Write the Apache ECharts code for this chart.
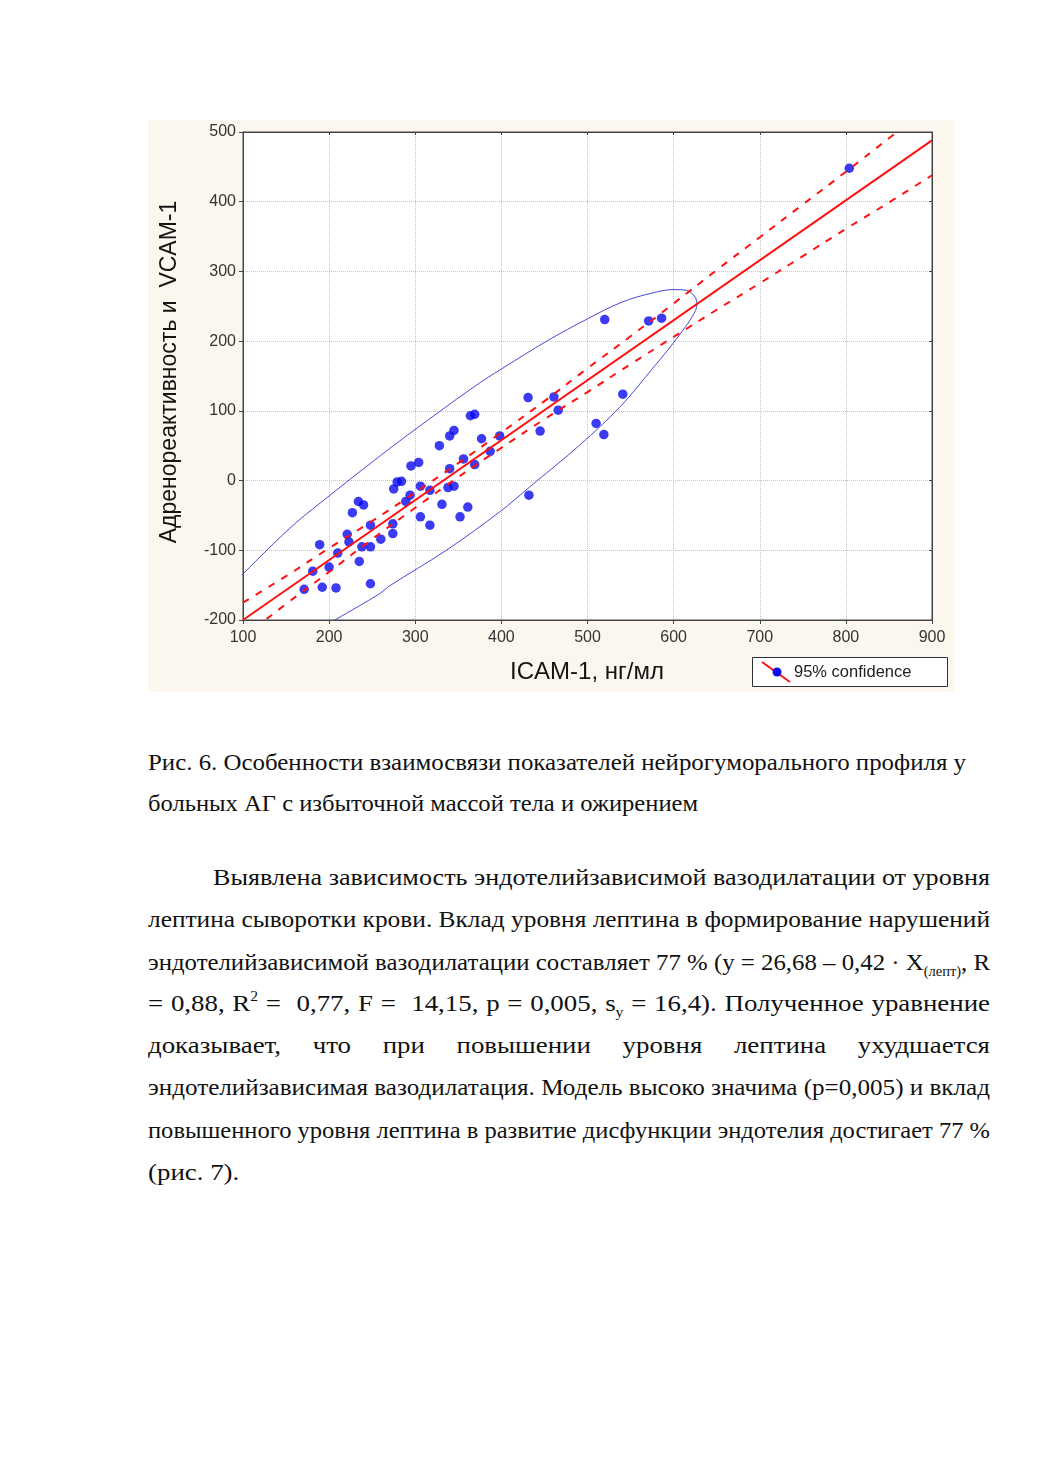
<!DOCTYPE html>
<html>
<head>
<meta charset="utf-8">
<script src="https://cdn.jsdelivr.net/npm/echarts@6/dist/echarts.min.js"></script>
<style>
  html, body { margin:0; padding:0; background:#fff; width:1041px; height:1472px; overflow:hidden; }
  #chart { position:absolute; left:148px; top:120px; width:807px; height:572px; background:#fbf7ee; }
  .ln { position:absolute; white-space:pre; display:inline-block; font-family:"Liberation Serif","Times New Roman",serif;
        font-size:24px; line-height:42px; height:42px; color:#111; transform-origin:0 50%; }
  .sub { font-size:14px; position:relative; top:6px; }
  .sup { font-size:14px; position:relative; top:-10px; }
</style>
</head>
<body>
<div id="chart"></div>

<div class="ln" data-w="818" data-mode="fit" style="left:148px;top:741px">Рис. 6. Особенности взаимосвязи показателей нейрогуморального профиля у</div>
<div class="ln" data-w="550" data-mode="fit" style="left:148px;top:782px">больных АГ с избыточной массой тела и ожирением</div>

<div class="ln" data-w="777" data-mode="just" style="left:213px;top:856px">Выявлена зависимость эндотелийзависимой вазодилатации от уровня</div>
<div class="ln" data-w="842" data-mode="just" style="left:148px;top:898px">лептина сыворотки крови. Вклад уровня лептина в формирование нарушений</div>
<div class="ln" data-w="842" data-mode="just" style="left:148px;top:941px">эндотелийзависимой вазодилатации составляет 77 % (у = 26,68 – 0,42 · X<span class="sub">(лепт)</span>, R</div>
<div class="ln" data-w="842" data-mode="just" style="left:148px;top:982px">= 0,88, R<span class="sup">2</span> =  0,77, F =  14,15, p = 0,005, s<span class="sub">y</span> = 16,4). Полученное уравнение</div>
<div class="ln" data-w="842" data-mode="just" style="left:148px;top:1024px">доказывает, что при повышении уровня лептина ухудшается</div>
<div class="ln" data-w="842" data-mode="just" style="left:148px;top:1066px">эндотелийзависимая вазодилатация. Модель высоко значима (p=0,005) и вклад</div>
<div class="ln" data-w="842" data-mode="just" style="left:148px;top:1109px">повышенного уровня лептина в развитие дисфункции эндотелия достигает 77 %</div>
<div class="ln" data-mode="plain" style="left:148px;top:1151px">(рис. 7).</div>

<script>
// ---- Data ----
const pointsX = [171,181,189,192,200,208,210,221,223,227,234,240,235,238,248,248,248,260,274,274,
                 275,279,284,294,289,295,304,306,306,317,317,328,331,340,345,340,338,345,352,361,
                 356,364,369,369,377,387,398,431,461,466,445,432,510,519,541,520,571,586,804];
const pointsY = [-156,-130,-92,-153,-124,-154,-104,-77,-88,-46,-30,-35,-116,-95,-95,-64,-148,-84,-62,-76,
                 -12,-2,-1,-21,-30,21,26,-52,-8,-14,-64,50,-34,64,72,17,-10,-8,-52,-38,
                 31,93,95,23,60,42,64,119,120,101,71,-21,82,66,124,231,229,233,448];

const fitX = [100, 900];
const fitY = [-200, 488];

const bandX     = [100,150,200,250,300,350,400,450,500,550,600,650,700,750,800,850,900];
const bandUpper = [-175,-137,-97,-58,-17,25,69,114,161,207,254,302,349,396,443,491,538];
const bandLower = [-225,-177,-131,-84,-39,5,47,88,127,167,206,245,283,322,361,399,438];

const ellipseX = [80,100,130,162,200,240,280,326,370,400,454,500,540,575,600,615,625,627,622,611,595,577,538,491,433,398,336,269,259,208,195];
const ellipseY = [-159,-134,-97,-60,-22,17,55,97,136,160,201,232,256,269,274,273,263,252,236,216,190,163,106,51,-9,-45,-100,-152,-162,-199,-208];

const xTicks = [100,200,300,400,500,600,700,800,900];
const yTicks = [-200,-100,0,100,200,300,400,500];

const yTitle = 'Адренореактивность и  VCAM-1';
const xTitle = 'ICAM-1, нг/мл';
const legendText = '95% confidence';

// ---- Chart ----
const zip = (a, b) => a.map((v, i) => [v, b[i]]);
const chart = echarts.init(document.getElementById('chart'), null, {renderer: 'canvas'});
const labelStyle = {color:'#333', fontFamily:'Liberation Sans, Arial, sans-serif', fontSize:16};
const axisColor = '#444';

chart.setOption({
  animation: false,
  backgroundColor: '#fbf7ee',
  grid: {left:95, top:12, width:689, height:488, show:true, backgroundColor:'#fff', borderColor:axisColor, borderWidth:1},
  xAxis: [
    {type:'value', min:xTicks[0], max:xTicks[xTicks.length-1], interval:100, position:'bottom',
     axisLine:{show:true, onZero:false, lineStyle:{color:axisColor}},
     axisTick:{show:true, length:4, lineStyle:{color:axisColor}},
     axisLabel:Object.assign({margin:10}, labelStyle),
     splitLine:{show:true, lineStyle:{color:'#c4c4c4', type:'dotted'}}},
    {type:'value', min:xTicks[0], max:xTicks[xTicks.length-1], interval:100, position:'top',
     axisLine:{show:true, onZero:false, lineStyle:{color:axisColor}},
     axisTick:{show:true, inside:true, length:3, lineStyle:{color:axisColor}},
     axisLabel:{show:false}, splitLine:{show:false}}
  ],
  yAxis: [
    {type:'value', min:yTicks[0], max:yTicks[yTicks.length-1], interval:100, position:'left',
     axisLine:{show:true, onZero:false, lineStyle:{color:axisColor}},
     axisTick:{show:true, length:4, lineStyle:{color:axisColor}},
     axisLabel:Object.assign({margin:7}, labelStyle),
     splitLine:{show:true, lineStyle:{color:'#c4c4c4', type:'dotted'}}},
    {type:'value', min:yTicks[0], max:yTicks[yTicks.length-1], interval:100, position:'right',
     axisLine:{show:true, onZero:false, lineStyle:{color:axisColor}},
     axisTick:{show:true, inside:true, length:3, lineStyle:{color:axisColor}},
     axisLabel:{show:false}, splitLine:{show:false}}
  ],
  series: [
    {type:'scatter', name:'points', data:zip(pointsX, pointsY), symbol:'circle', symbolSize:9.5,
     itemStyle:{color:'#0a0af0'}, z:2},
    {type:'line', name:'ellipse', data:zip(ellipseX, ellipseY), smooth:0.35, showSymbol:false, clip:true,
     lineStyle:{color:'#4848d8', width:1}, z:3},
    {type:'line', name:'upper', data:zip(bandX, bandUpper), smooth:true, showSymbol:false, clip:true,
     lineStyle:{color:'#ff1010', width:2, type:[7,8]}, z:4},
    {type:'line', name:'lower', data:zip(bandX, bandLower), smooth:true, showSymbol:false, clip:true,
     lineStyle:{color:'#ff1010', width:2, type:[7,8]}, z:4},
    {type:'line', name:'fit', data:zip(fitX, fitY), showSymbol:false, clip:true,
     lineStyle:{color:'#ff1010', width:2}, z:5}
  ],
  graphic: [
    {type:'text', x:22, y:252, rotation:Math.PI/2, z:10,
     style:{text:yTitle, fill:'#141414', font:'23px "Liberation Sans", Arial, sans-serif', align:'center', verticalAlign:'middle'}},
    {type:'text', x:439, y:552, z:10,
     style:{text:xTitle, fill:'#141414', font:'24px "Liberation Sans", Arial, sans-serif', align:'center', verticalAlign:'middle'}},
    {type:'rect', shape:{x:604.5, y:537.5, width:195, height:29}, z:10,
     style:{fill:'#fff', stroke:'#333', lineWidth:1}},
    {type:'line', shape:{x1:614, y1:542, x2:642, y2:562}, z:11,
     style:{stroke:'#ff1010', lineWidth:2}},
    {type:'circle', shape:{cx:629, cy:552, r:4.5}, z:12, style:{fill:'#0a0af0'}},
    {type:'text', x:646, y:552, z:12,
     style:{text:legendText, fill:'#222', font:'16.5px "Liberation Sans", Arial, sans-serif', align:'left', verticalAlign:'middle'}}
  ]
});

// ---- fit text lines to the widths seen in the reference ----
const BASE_SCALE = 1.12;
document.querySelectorAll('.ln').forEach(el => {
  const mode = el.dataset.mode;
  const nat = el.getBoundingClientRect().width;
  if (mode === 'plain') { el.style.transform = 'scaleX(' + BASE_SCALE + ')'; return; }
  const target = +el.dataset.w;
  if (mode === 'fit') {
    el.style.transform = 'scaleX(' + (target / nat) + ')';
  } else {
    const n = (el.textContent.match(/ /g) || []).length;
    const s = Math.min(BASE_SCALE, target / nat);
    el.style.transform = 'scaleX(' + s + ')';
    const extra = target / s - nat;
    if (extra > 0 && n) el.style.wordSpacing = (extra / n) + 'px';
  }
});
</script>
</body>
</html>
